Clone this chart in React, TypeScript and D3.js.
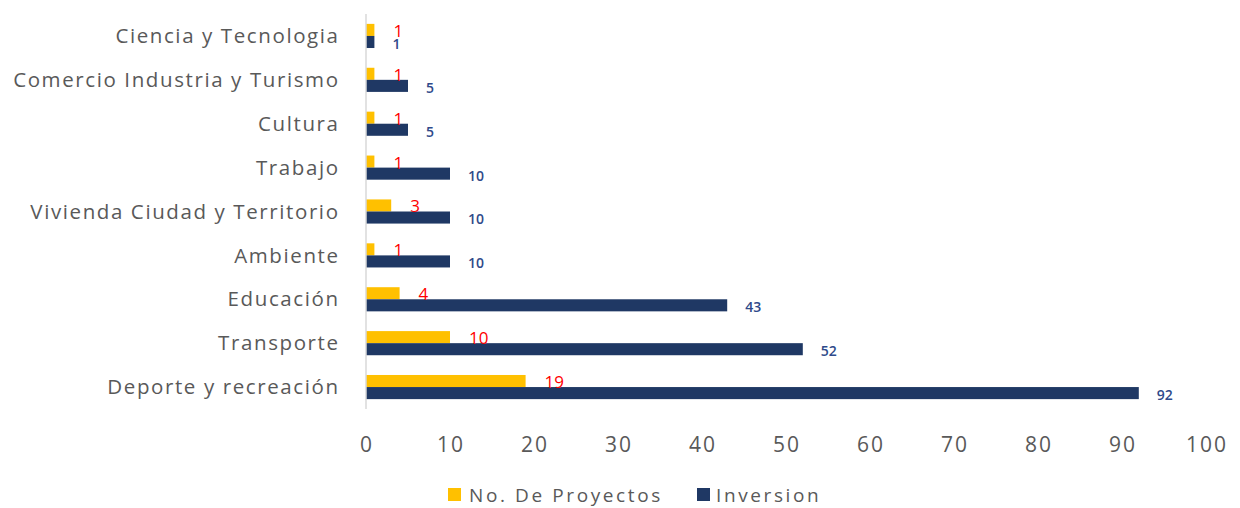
import React from "react";
import * as d3 from "d3";

const categories = [
  "Ciencia y Tecnologia",
  "Comercio Industria y Turismo",
  "Cultura",
  "Trabajo",
  "Vivienda Ciudad y Territorio",
  "Ambiente",
  "Educación",
  "Transporte",
  "Deporte y recreación",
];
const proyectos = [1, 1, 1, 1, 3, 1, 4, 10, 19];
const inversion = [1, 5, 5, 10, 10, 10, 43, 52, 92];
const xTicks = [0, 10, 20, 30, 40, 50, 60, 70, 80, 90, 100];
const seriesNames = ["No. De Proyectos", "Inversion"];

const W = 1240;
const H = 508;
const YELLOW = "#FFC000";
const NAVY = "#1F3864";
const GRAY = "#595959";
const FONT = "'Open Sans', sans-serif";

export default function App() {
  const x = d3.scaleLinear().domain([0, 100]).range([366, 1206]);
  const y = d3.scaleBand<string>().domain(categories).range([14, 409]).paddingInner(0.45).paddingOuter(0.225);
  const sub = d3.scaleBand<string>().domain(["p", "i"]).range([0, y.bandwidth()]);

  return (
    <svg width={W} height={H} style={{ position: "absolute", left: 0, top: 0, background: "#fff" }}>
      <rect width={W} height={H} fill="#fff" />
      {categories.map((c, i) => {
        const y0 = y(c)!;
        const cy = y0 + y.bandwidth() / 2;
        return (
          <g key={c}>
            <text x={339.6} y={cy} dy="0.35em" textAnchor="end" fontFamily={FONT} fontSize={20.5} letterSpacing={1.6} fill={GRAY}>
              {c}
            </text>
            <rect x={x(0)} y={y0 + sub("p")!} width={x(proyectos[i]) - x(0)} height={sub.bandwidth()} fill={YELLOW} />
            <rect x={x(0)} y={y0 + sub("i")!} width={x(inversion[i]) - x(0)} height={sub.bandwidth()} fill={NAVY} />
            <text
              x={x(proyectos[i]) + 19}
              y={y0 + sub("p")! + sub.bandwidth() / 2 + 1}
              dy="0.35em"
              fontFamily={FONT}
              fontSize={17}
              fill="#FF0000"
            >
              {proyectos[i]}
            </text>
            <text
              x={x(inversion[i]) + 18}
              y={y0 + sub("i")! + sub.bandwidth() / 2 + 2}
              dy="0.35em"
              fontFamily={FONT}
              fontSize={14}
              fontWeight={600}
              fill="#2F4A8A"
            >
              {inversion[i]}
            </text>
          </g>
        );
      })}
      <line x1={x(0)} x2={x(0)} y1={14} y2={409} stroke="#D9D9D9" strokeWidth={1.5} />
      {xTicks.map((t) => (
        <text key={t} x={x(t) + 1} y={445} dy="0.35em" textAnchor="middle" fontFamily={FONT} fontSize={21} letterSpacing={2} fill={GRAY}>
          {t}
        </text>
      ))}
      <g>
        <rect x={448} y={488} width={13} height={13} fill={YELLOW} />
        <text x={469} y={495} dy="0.35em" fontFamily={FONT} fontSize={19} letterSpacing={2.6} fill={GRAY}>
          {seriesNames[0]}
        </text>
        <rect x={697} y={488} width={13} height={13} fill={NAVY} />
        <text x={716} y={495} dy="0.35em" fontFamily={FONT} fontSize={19} letterSpacing={2.6} fill={GRAY}>
          {seriesNames[1]}
        </text>
      </g>
    </svg>
  );
}
